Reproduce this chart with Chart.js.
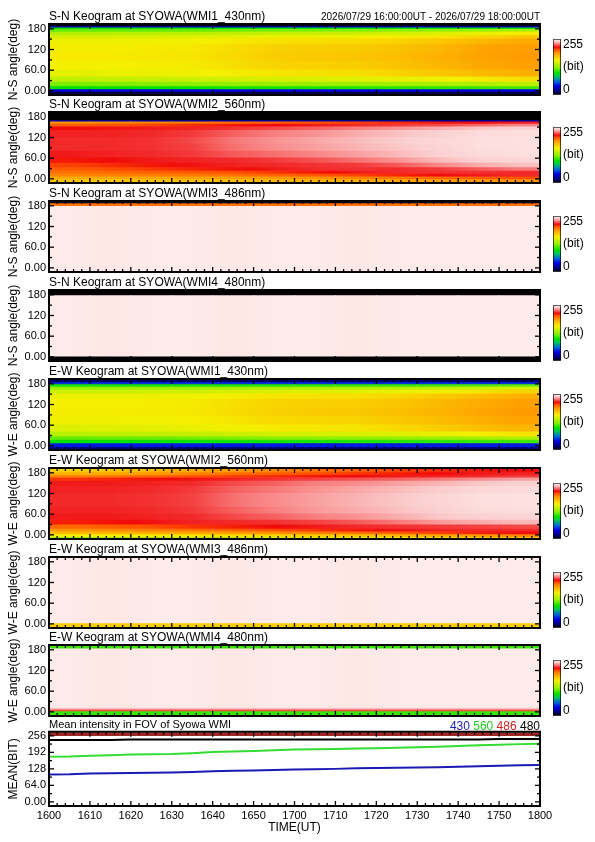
<!DOCTYPE html>
<html>
<head>
<meta charset="utf-8">
<script src="https://cdn.jsdelivr.net/npm/chart.js@4.4.1/dist/chart.umd.min.js"></script>
<style>
  html, body { margin: 0; padding: 0; background: #fff; }
  #page { position: relative; width: 595px; height: 842px; overflow: hidden; background: #fff; }
  #page canvas { position: absolute; }
</style>
</head>
<body>
<div id="page"></div>
<script>
// ---- data ----
// keogram columns: centres of 10-minute bins, minutes after 16:00 UT
const colMinutes = [5, 15, 25, 35, 45, 55, 65, 75, 85, 95, 105, 115];
const colHalfWidth = 5;
const timeLabels = ['1600', '1610', '1620', '1630', '1640', '1650', '1700', '1710', '1720', '1730', '1740', '1750', '1800'];
const angleTicks = [0, 60, 120, 180];
const angleTickLabels = ['0.00', '60.0', '120', '180'];
const meanTicks = [0, 64, 128, 192, 256];
const meanTickLabels = ['0.00', '64.0', '128', '192', '256'];
const cbarTicks = [232, 128, 24];
const cbarTickLabels = ['255', '(bit)', '0'];

// intensity (bit) per angle band (rows, bottom to top) and time column
const sn430Edges = [-12, -4, 3, 12, 25, 40, 60, 85, 110, 135, 150, 160, 170, 178, 182, 186, 194];
const sn430 = [
  [10, 10, 10, 10, 10, 10, 10, 10, 10, 10, 10, 10],
  [40, 40, 40, 40, 40, 40, 40, 40, 40, 40, 40, 40],
  [100, 100, 101, 102, 103, 104, 105, 106, 107, 108, 110, 112],
  [122, 123, 124, 125, 127, 129, 130, 131, 133, 135, 137, 140],
  [142, 143, 144, 146, 148, 150, 151, 152, 155, 158, 162, 166],
  [155, 156, 157, 158, 161, 164, 165, 166, 170, 174, 179, 183],
  [160, 160, 161, 162, 166, 170, 171, 172, 176, 180, 185, 188],
  [162, 162, 163, 164, 168, 172, 174, 175, 178, 182, 187, 190],
  [161, 161, 162, 163, 167, 171, 172, 173, 176, 180, 186, 189],
  [157, 157, 158, 159, 162, 165, 166, 167, 170, 174, 179, 184],
  [150, 150, 151, 152, 154, 156, 157, 158, 161, 164, 168, 174],
  [138, 138, 139, 140, 142, 144, 145, 146, 148, 151, 155, 161],
  [118, 118, 118, 119, 120, 122, 123, 124, 126, 128, 131, 135],
  [100, 100, 100, 100, 100, 100, 101, 101, 102, 102, 103, 104],
  [35, 35, 35, 35, 35, 35, 35, 35, 35, 35, 35, 35],
  [5, 5, 5, 5, 5, 5, 5, 5, 5, 5, 5, 5]
];

const sn560Edges = [-12, -3, 5, 13, 22, 32, 45, 60, 80, 100, 120, 140, 150, 158, 165, 168, 194];
const sn560 = [
  [175, 175, 176, 177, 178, 180, 182, 184, 186, 188, 190, 192],
  [185, 185, 186, 187, 188, 190, 192, 195, 198, 202, 205, 208],
  [195, 196, 197, 198, 200, 203, 206, 210, 214, 218, 220, 222],
  [200, 202, 204, 206, 208, 212, 216, 220, 222, 223, 223, 222],
  [205, 208, 211, 214, 217, 220, 222, 223, 222, 224, 228, 232],
  [210, 213, 216, 219, 221, 222, 223, 224, 228, 234, 240, 243],
  [216, 218, 220, 221, 222, 224, 227, 231, 236, 242, 246, 248],
  [220, 221, 222, 224, 228, 231, 234, 238, 242, 246, 249, 250],
  [222, 222, 223, 225, 231, 235, 238, 241, 244, 247, 250, 251],
  [222, 222, 223, 226, 232, 236, 239, 242, 245, 248, 250, 251],
  [221, 221, 222, 224, 229, 233, 236, 240, 243, 246, 249, 250],
  [218, 219, 220, 221, 223, 226, 229, 233, 236, 240, 244, 246],
  [205, 207, 210, 213, 216, 218, 220, 222, 224, 226, 230, 234],
  [192, 194, 196, 198, 201, 204, 207, 210, 213, 216, 218, 220],
  [30, 30, 30, 30, 30, 30, 30, 30, 30, 30, 30, 30],
  [0, 0, 0, 0, 0, 0, 0, 0, 0, 0, 0, 0]
];

const pinkRow = [254, 253, 254, 254, 253, 254, 254, 253, 254, 254, 254, 254];

const sn486Edges = [-12, 178, 186, 194];
const sn486 = [
  pinkRow,
  [200, 200, 200, 200, 200, 200, 200, 200, 200, 200, 200, 200],
  [0, 0, 0, 0, 0, 0, 0, 0, 0, 0, 0, 0]
];

const sn480Edges = [-12, -1, 177, 194];
const sn480 = [
  [0, 0, 0, 0, 0, 0, 0, 0, 0, 0, 0, 0],
  pinkRow,
  [0, 0, 0, 0, 0, 0, 0, 0, 0, 0, 0, 0]
];

const ew430Edges = [-12, -6, 6, 16, 26, 40, 60, 85, 110, 135, 150, 162, 170, 177, 183, 194];
const ew430 = [
  [20, 20, 20, 20, 20, 20, 20, 20, 20, 20, 20, 20],
  [45, 45, 45, 45, 45, 45, 45, 45, 45, 45, 45, 45],
  [100, 100, 101, 102, 103, 104, 105, 106, 107, 108, 110, 112],
  [118, 119, 120, 121, 123, 125, 126, 127, 129, 131, 134, 138],
  [140, 141, 142, 144, 146, 148, 149, 150, 153, 156, 160, 165],
  [152, 153, 154, 156, 159, 162, 163, 164, 168, 172, 177, 181],
  [158, 158, 159, 160, 164, 168, 169, 170, 174, 178, 183, 187],
  [161, 161, 162, 163, 167, 171, 173, 174, 177, 181, 186, 190],
  [160, 160, 161, 162, 166, 170, 171, 172, 175, 179, 184, 188],
  [156, 156, 157, 158, 161, 164, 165, 166, 169, 173, 178, 183],
  [145, 145, 146, 147, 149, 151, 152, 153, 156, 159, 164, 170],
  [128, 128, 129, 130, 132, 134, 135, 136, 138, 141, 145, 150],
  [105, 105, 105, 106, 107, 108, 109, 110, 111, 113, 115, 118],
  [50, 50, 50, 50, 50, 50, 50, 50, 50, 50, 50, 50],
  [18, 18, 18, 18, 18, 18, 18, 18, 18, 18, 18, 18]
];

const ew560Edges = [-12, -8, 0, 8, 16, 28, 42, 60, 80, 100, 120, 140, 155, 165, 172, 180, 194];
const ew560 = [
  [130, 132, 135, 138, 142, 146, 150, 155, 160, 165, 170, 175],
  [160, 161, 163, 165, 167, 170, 173, 176, 180, 185, 190, 195],
  [178, 180, 182, 185, 188, 192, 196, 200, 205, 210, 215, 218],
  [192, 194, 197, 200, 204, 208, 212, 216, 219, 221, 222, 222],
  [202, 205, 208, 212, 215, 218, 220, 222, 223, 224, 225, 226],
  [215, 217, 219, 221, 222, 223, 225, 228, 232, 237, 240, 242],
  [220, 220, 221, 222, 226, 229, 233, 236, 240, 244, 246, 247],
  [221, 221, 222, 224, 229, 233, 237, 240, 243, 246, 249, 250],
  [222, 222, 223, 225, 231, 235, 238, 241, 244, 247, 250, 251],
  [222, 222, 223, 225, 231, 235, 238, 241, 244, 247, 250, 251],
  [221, 221, 222, 224, 229, 232, 236, 239, 242, 245, 248, 249],
  [220, 220, 221, 222, 226, 229, 233, 235, 238, 241, 244, 246],
  [212, 214, 217, 219, 221, 223, 225, 227, 229, 232, 235, 238],
  [195, 198, 202, 206, 210, 213, 216, 218, 220, 221, 222, 224],
  [182, 185, 190, 195, 200, 204, 208, 212, 215, 218, 220, 221],
  [172, 175, 180, 185, 190, 195, 200, 205, 210, 213, 216, 218]
];

const ew486Edges = [-12, 0, 194];
const ew486 = [
  [172, 172, 172, 172, 172, 172, 172, 172, 172, 172, 172, 172],
  pinkRow
];

const ew480Edges = [-12, 0, 5, 10, 182, 194];
const ew480 = [
  [110, 110, 110, 110, 110, 110, 110, 110, 110, 110, 110, 110],
  [226, 226, 226, 226, 226, 226, 226, 226, 226, 226, 226, 226],
  [243, 243, 243, 243, 243, 243, 243, 243, 243, 243, 243, 243],
  pinkRow,
  [110, 110, 110, 110, 110, 110, 110, 110, 110, 110, 110, 110]
];

// mean intensity in FOV, every 5 minutes
const meanMinutes = [0, 5, 10, 15, 20, 25, 30, 35, 40, 45, 50, 55, 60, 65, 70, 75, 80, 85, 90, 95, 100, 105, 110, 115, 120];
const mean430 = [106, 107, 110, 111, 112, 113, 114, 116, 119, 121, 122, 124, 126, 127, 128, 130, 131, 132, 133, 134, 136, 138, 140, 142, 143];
const mean560 = [175, 176, 179, 181, 184, 185, 186, 189, 193, 195, 197, 200, 203, 204, 205, 207, 208, 210, 212, 214, 217, 220, 222, 224, 225];
const mean486 = [262, 262, 262, 262, 262, 262, 262, 262, 262, 262, 262, 262, 262, 262, 262, 262, 262, 262, 262, 262, 262, 262, 262, 262, 262];
const mean480 = [240, 240, 240, 240, 242, 242, 242, 242, 242, 242, 242, 242, 242, 242, 242, 242, 242, 242, 242, 242, 242, 242, 244, 244, 244];

// ---- style ----
const FONT = "'Liberation Sans', Arial, sans-serif";
Chart.defaults.font.family = FONT;
Chart.defaults.color = '#000';

// colour table: [bit, r, g, b]
const cmapStops = [
  [0, 0, 0, 0], [15, 0, 0, 110], [40, 0, 0, 230], [62, 0, 110, 210], [85, 0, 200, 90],
  [100, 0, 225, 0], [125, 140, 240, 0], [160, 245, 240, 0], [190, 255, 155, 0],
  [208, 255, 80, 0], [218, 240, 10, 10], [232, 248, 120, 120], [245, 251, 205, 205],
  [255, 253, 238, 236]
];

function colorOf(v) {
  for (let i = 1; i < cmapStops.length; i++) {
    const a = cmapStops[i - 1], b = cmapStops[i];
    if (v <= b[0]) {
      const t = (v - a[0]) / (b[0] - a[0]);
      const c = [1, 2, 3].map(k => Math.round(a[k] + (b[k] - a[k]) * t));
      return `rgb(${c[0]},${c[1]},${c[2]})`;
    }
  }
  const l = cmapStops[cmapStops.length - 1];
  return `rgb(${l[1]},${l[2]},${l[3]})`;
}

// each cell is shaded across its width towards its neighbours (smooth image look)
function bandFill(row) {
  return c => {
    const i = c.dataIndex;
    if (i === undefined) return colorOf(row[0]);
    const xs = c.chart.scales.x;
    const x0 = xs.getPixelForValue(colMinutes[i] - colHalfWidth);
    const x1 = xs.getPixelForValue(colMinutes[i] + colHalfWidth);
    if (!isFinite(x0) || !isFinite(x1) || x1 <= x0) return colorOf(row[i]);
    const prev = row[Math.max(i - 1, 0)];
    const next = row[Math.min(i + 1, row.length - 1)];
    const g = c.chart.ctx.createLinearGradient(x0, 0, x1, 0);
    g.addColorStop(0, colorOf((prev + row[i]) / 2));
    g.addColorStop(0.5, colorOf(row[i]));
    g.addColorStop(1, colorOf((next + row[i]) / 2));
    return g;
  };
}

// frame with inward ticks on all four sides, like the IDL plots
const framePlugin = {
  id: 'frame',
  afterDatasetsDraw(chart, args, opts) {
    const { ctx, chartArea: a, scales } = chart;
    const seg = (x1, y1, x2, y2) => { ctx.beginPath(); ctx.moveTo(x1, y1); ctx.lineTo(x2, y2); ctx.stroke(); };
    ctx.save();
    ctx.strokeStyle = '#000';
    ctx.lineWidth = 1.3;
    for (let m = 0; m <= 120; m += 2) {
      const x = scales.x.getPixelForValue(m);
      const len = m % 10 === 0 ? 5 : 3;
      seg(x, a.top, x, a.top + len);
      seg(x, a.bottom, x, a.bottom - len);
    }
    const yTick = (v, len) => {
      const y = scales.y.getPixelForValue(v);
      seg(a.left, y, a.left + len, y);
      seg(a.right, y, a.right - len, y);
    };
    opts.major.forEach(v => yTick(v, 5));
    opts.minor.forEach(v => yTick(v, 3));
    ctx.lineWidth = 2;
    ctx.strokeRect(a.left, a.top, a.width, a.height);
    ctx.restore();
  }
};

// right-aligned coloured text above the plot frame
const notePlugin = {
  id: 'note',
  afterDraw(chart, args, opts) {
    const { ctx, chartArea } = chart;
    const items = opts.items;
    ctx.save();
    ctx.font = `${opts.size}px ${FONT}`;
    ctx.textAlign = 'right';
    ctx.textBaseline = 'alphabetic';
    const space = ctx.measureText(' ').width;
    let x = chartArea.right;
    for (let i = items.length - 1; i >= 0; i--) {
      ctx.fillStyle = items[i].color;
      ctx.fillText(items[i].text, x, chartArea.top - opts.gap);
      x -= ctx.measureText(items[i].text).width + space;
    }
    ctx.restore();
  }
};

const page = document.getElementById('page');
function addCanvas(left, top, w, h) {
  const c = document.createElement('canvas');
  c.width = w; c.height = h;
  c.style.left = left + 'px'; c.style.top = top + 'px';
  c.style.width = w + 'px'; c.style.height = h + 'px';
  page.appendChild(c);
  return c;
}

function titleOpts(text, size) {
  return {
    display: true, text, align: 'start', fullSize: false, color: '#000',
    font: { size, weight: 'normal', lineHeight: 1.25 }, padding: { top: 0, bottom: 0 }
  };
}

function leftAxis(min, max, ticks, labels, title) {
  return {
    min, max,
    afterFit: s => { s.width = 49; },
    afterBuildTicks: s => { s.ticks = ticks.map(v => ({ value: v })); },
    ticks: { callback: (v, i) => labels[i], autoSkip: false, font: { size: 11 }, color: '#000', padding: 3 },
    grid: { display: false, drawTicks: false },
    border: { display: false },
    title: { display: true, text: title, color: '#000', font: { size: 12 }, padding: { top: 6, bottom: 0 } }
  };
}

function keogram(top, title, yTitle, edges, grid, note) {
  const canvas = addCanvas(0, top - 15, 595, 96);
  const datasets = grid.map((row, r) => ({
    data: colMinutes.map(m => ({ x: m, y: [edges[r], edges[r + 1]] })),
    backgroundColor: bandFill(row)
  }));
  const plugins = [framePlugin];
  if (note) plugins.push(notePlugin);
  new Chart(canvas, {
    type: 'bar',
    data: { datasets },
    options: {
      responsive: false, animation: false, events: [],
      layout: { padding: { top: 0, right: 55, bottom: 10, left: 0 } },
      datasets: { bar: { grouped: false, barPercentage: 1, categoryPercentage: 1, borderWidth: 0, inflateAmount: 0.6 } },
      plugins: {
        legend: { display: false }, tooltip: { enabled: false },
        title: titleOpts(title, 12),
        frame: { major: angleTicks, minor: [30, 90, 150] },
        note: note || {}
      },
      scales: {
        x: { type: 'linear', min: 0, max: 120, offset: false, display: false },
        y: leftAxis(-12, 194, angleTicks, angleTickLabels, yTitle)
      }
    },
    plugins
  });
  colorbar(top + 14);
}

function colorbar(top) {
  const canvas = addCanvas(553, top - 8, 42, 74);
  new Chart(canvas, {
    type: 'bar',
    data: {
      labels: ['bit'],
      datasets: [{
        data: [[0, 255]],
        backgroundColor: c => {
          const a = c.chart.chartArea;
          if (!a) return '#000';
          const g = c.chart.ctx.createLinearGradient(0, a.bottom, 0, a.top);
          cmapStops.forEach(s => g.addColorStop(s[0] / 255, `rgb(${s[1]},${s[2]},${s[3]})`));
          return g;
        },
        borderColor: '#000', borderWidth: 1, borderSkipped: false,
        barPercentage: 1, categoryPercentage: 1
      }]
    },
    options: {
      responsive: false, animation: false, events: [],
      layout: { padding: { top: 8, right: 0, bottom: 8, left: 0 } },
      plugins: { legend: { display: false }, tooltip: { enabled: false } },
      scales: {
        x: { display: false },
        y: {
          position: 'right', min: 0, max: 255,
          afterFit: s => { s.width = 34; },
          afterBuildTicks: s => { s.ticks = cbarTicks.map(v => ({ value: v })); },
          ticks: { callback: (v, i) => cbarTickLabels[i], autoSkip: false, font: { size: 12 }, color: '#000', padding: 2 },
          grid: { display: false, drawTicks: false },
          border: { display: false }
        }
      }
    }
  });
}

keogram(24, 'S-N Keogram at SYOWA(WMI1_430nm)', 'N-S angle(deg)', sn430Edges, sn430,
  { size: 10, gap: 4, items: [{ text: '2026/07/29 16:00:00UT - 2026/07/29 18:00:00UT', color: '#000' }] });
keogram(112, 'S-N Keogram at SYOWA(WMI2_560nm)', 'N-S angle(deg)', sn560Edges, sn560);
keogram(201, 'S-N Keogram at SYOWA(WMI3_486nm)', 'N-S angle(deg)', sn486Edges, sn486);
keogram(290, 'S-N Keogram at SYOWA(WMI4_480nm)', 'N-S angle(deg)', sn480Edges, sn480);
keogram(379, 'E-W Keogram at SYOWA(WMI1_430nm)', 'W-E angle(deg)', ew430Edges, ew430);
keogram(468, 'E-W Keogram at SYOWA(WMI2_560nm)', 'W-E angle(deg)', ew560Edges, ew560);
keogram(557, 'E-W Keogram at SYOWA(WMI3_486nm)', 'W-E angle(deg)', ew486Edges, ew486);
keogram(645, 'E-W Keogram at SYOWA(WMI4_480nm)', 'W-E angle(deg)', ew480Edges, ew480);

// mean intensity panel
const meanCanvas = addCanvas(0, 718, 595, 124);
const pts = arr => meanMinutes.map((m, i) => ({ x: m, y: arr[i] }));
new Chart(meanCanvas, {
  type: 'line',
  data: {
    datasets: [
      { label: '430', data: pts(mean430), borderColor: '#1a1ab4', borderWidth: 2 },
      { label: '560', data: pts(mean560), borderColor: '#33dd33', borderWidth: 2 },
      { label: '486', data: pts(mean486), borderColor: '#a02525', borderWidth: 3.5 },
      { label: '480', data: pts(mean480), borderColor: '#000', borderWidth: 2 }
    ]
  },
  options: {
    responsive: false, animation: false, events: [],
    layout: { padding: { top: 0, right: 55, bottom: 6, left: 0 } },
    elements: { point: { radius: 0 }, line: { tension: 0 } },
    plugins: {
      legend: { display: false }, tooltip: { enabled: false },
      title: titleOpts('Mean intensity in FOV of Syowa WMI', 11),
      frame: { major: meanTicks, minor: [32, 96, 160, 224] },
      note: {
        size: 12, gap: 2, items: [
          { text: '430', color: '#1a1ab4' }, { text: '560', color: '#22cc22' },
          { text: '486', color: '#cc2222' }, { text: '480', color: '#000' }
        ]
      }
    },
    scales: {
      x: {
        type: 'linear', min: 0, max: 120,
        afterFit: s => { s.height = 30; },
        afterBuildTicks: s => { s.ticks = timeLabels.map((t, i) => ({ value: i * 10 })); },
        ticks: { callback: (v, i) => timeLabels[i], autoSkip: false, maxRotation: 0, font: { size: 11 }, color: '#000', padding: 3 },
        grid: { display: false, drawTicks: false },
        border: { display: false },
        title: { display: true, text: 'TIME(UT)', color: '#000', font: { size: 12 }, padding: { top: 0, bottom: 1 } }
      },
      y: leftAxis(-16, 272, meanTicks, meanTickLabels, 'MEAN(BIT)')
    }
  },
  plugins: [framePlugin, notePlugin]
});
</script>
</body>
</html>
